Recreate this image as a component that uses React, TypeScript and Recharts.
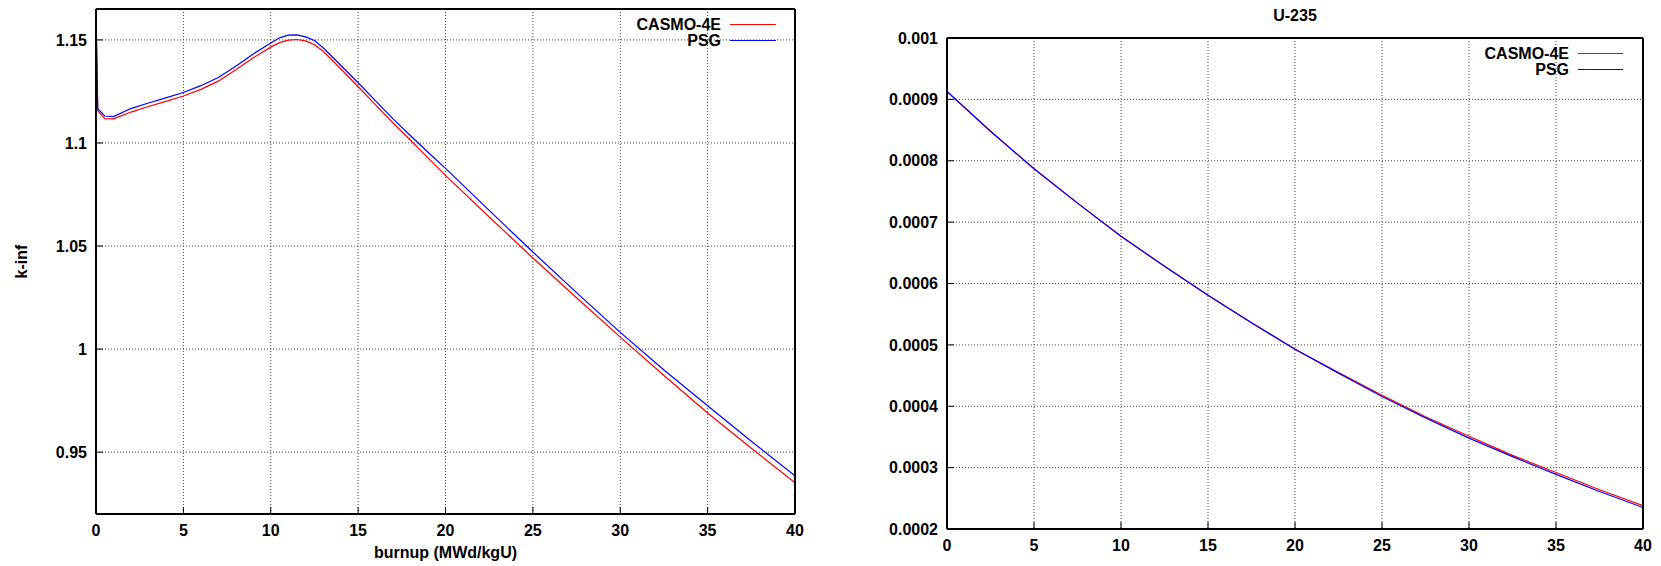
import React from 'react';
import { LineChart, Line, XAxis, YAxis, CartesianGrid, Legend, Label } from 'recharts';

const FONT = '"Liberation Sans", Arial, Helvetica, sans-serif';

// ---- k-inf chart data ----
const burnupK = [0, 0.1, 0.5, 1, 2, 3, 4, 5, 6, 7, 8, 9, 10, 10.5, 11, 11.5, 12, 12.5, 13, 14, 15, 16, 17, 18, 19, 20, 22.5, 25, 27.5, 30, 32.5, 35, 37.5, 40];
const casmoK = [1.163, 1.1156, 1.1118, 1.1117, 1.115, 1.1177, 1.1202, 1.1228, 1.126, 1.13, 1.1355, 1.1413, 1.1465, 1.1487, 1.1499, 1.1502, 1.1495, 1.1477, 1.1445, 1.136, 1.1273, 1.1185, 1.1097, 1.1013, 1.0928, 1.0843, 1.0641, 1.0442, 1.0249, 1.0058, 0.9872, 0.969, 0.9519, 0.9352];
const psgK = [1.163, 1.1166, 1.1131, 1.1128, 1.1167, 1.1194, 1.1219, 1.1245, 1.1278, 1.1318, 1.1372, 1.1432, 1.1485, 1.151, 1.1523, 1.1524, 1.1515, 1.1497, 1.1462, 1.1377, 1.1292, 1.1204, 1.1117, 1.1035, 1.0955, 1.0877, 1.0673, 1.0471, 1.0274, 1.0081, 0.9899, 0.9725, 0.9553, 0.9385];

// ---- U-235 chart data ----
const burnupU = [0, 2.5, 5, 7.5, 10, 12.5, 15, 17.5, 20, 22.5, 25, 27.5, 30, 32.5, 35, 37.5, 40];
const casmoU = [0.000913, 0.000848, 0.000787, 0.000731, 0.000677, 0.000628, 0.000581, 0.000536, 0.000493, 0.000455, 0.000418, 0.000383, 0.000351, 0.00032, 0.000292, 0.000264, 0.000238];
const psgU = [0.000913, 0.000848, 0.000787, 0.000731, 0.000677, 0.000628, 0.000581, 0.000536, 0.000493, 0.000454, 0.000416, 0.000381, 0.000348, 0.000318, 0.000289, 0.000261, 0.000235];

// ---- ticks / labels ----
const xTicks = [0, 5, 10, 15, 20, 25, 30, 35, 40];
const kTicks = [0.95, 1, 1.05, 1.1, 1.15];
const uTicks = [0.0002, 0.0003, 0.0004, 0.0005, 0.0006, 0.0007, 0.0008, 0.0009, 0.001];
const kDomain = [0.92, 1.165];
const uDomain = [0.0002, 0.001];
const xDomain = [0, 40];
const seriesNames = ['CASMO-4E', 'PSG'];
const seriesColors = ['#ff0000', '#0000ff'];
const xLabel = 'burnup (MWd/kgU)';
const yLabelK = 'k-inf';
const titleU = 'U-235';

const kData = burnupK.map((b, i) => ({ burnup: b, casmo: casmoK[i], psg: psgK[i] }));
const uData = burnupU.map((b, i) => ({ burnup: b, casmo: casmoU[i], psg: psgU[i] }));

const tickStyle = { fill: '#000', fontSize: 16, fontWeight: 700, fontFamily: FONT };

function makeLegend(textWidth: number, lineWidth: number) {
  return (props: any) => {
    const payload = props.payload || [];
    return (
      <div style={{ fontFamily: FONT, fontWeight: 700, fontSize: 16, lineHeight: '16px', color: '#000' }}>
        {payload.map((p: any) => (
          <div key={p.value} style={{ display: 'flex', height: 16 }}>
            <span style={{ width: textWidth, textAlign: 'right', whiteSpace: 'nowrap' }}>{p.value}</span>
            <svg width={9 + lineWidth} height={16} style={{ display: 'block' }}>
              <line x1={9} x2={9 + lineWidth} y1={7.5} y2={7.5} stroke={p.color} strokeWidth={1.2} />
            </svg>
          </div>
        ))}
      </div>
    );
  };
}

const yLabelContent = (props: any) => {
  const vb = props.viewBox || { x: 0, y: 0, width: 0, height: 0 };
  const cx = vb.x + 21;
  const cy = vb.y + vb.height / 2;
  return (
    <text x={cx} y={cy} dy="0.35em" transform={`rotate(-90 ${cx} ${cy})`} textAnchor="middle"
      fill="#000" fontSize={16} fontWeight={700} fontFamily={FONT}>{yLabelK}</text>
  );
};

export default function App() {
  return (
    <div style={{ position: 'absolute', left: 0, top: 0, width: 1661, height: 566, background: '#fff', fontFamily: FONT }}>
      <div style={{ position: 'absolute', left: 0, top: 0 }}>
        <LineChart width={830} height={566} data={kData} margin={{ top: 8, right: 34, bottom: 0, left: 0 }}>
          <CartesianGrid stroke="#444" strokeDasharray="1 2" />
          <XAxis dataKey="burnup" type="number" domain={xDomain} ticks={xTicks} allowDataOverflow height={52}
            stroke="#000" axisLine={{ strokeWidth: 2 }} tickSize={-7} tickMargin={18} tick={tickStyle}>
            <Label value={xLabel} position="insideBottom" offset={8} fill="#000" fontSize={16} fontWeight={700} fontFamily={FONT} />
          </XAxis>
          <XAxis xAxisId="top" orientation="top" type="number" domain={xDomain} ticks={xTicks} allowDataOverflow height={1}
            stroke="#000" axisLine={{ strokeWidth: 2 }} tickSize={-7} tick={false} />
          <YAxis type="number" domain={kDomain} ticks={kTicks} allowDataOverflow width={96}
            stroke="#000" axisLine={{ strokeWidth: 2 }} tickSize={-7} tickMargin={16} tick={tickStyle}
            tickFormatter={(v: number) => String(v)}>
            <Label content={yLabelContent} />
          </YAxis>
          <YAxis yAxisId="right" orientation="right" type="number" domain={kDomain} ticks={kTicks} allowDataOverflow width={1}
            stroke="#000" axisLine={{ strokeWidth: 2 }} tickSize={-7} tick={false} />
          <Legend layout="vertical" align="center" verticalAlign="middle"
            wrapperStyle={{ position: 'absolute', left: 600, top: 17, width: 200 }}
            content={makeLegend(121, 46)} />
          <Line type="linear" dataKey="casmo" name={seriesNames[0]} stroke={seriesColors[0]} strokeWidth={1.2} dot={false} isAnimationActive={false} />
          <Line type="linear" dataKey="psg" name={seriesNames[1]} stroke={seriesColors[1]} strokeWidth={1.2} dot={false} isAnimationActive={false} />
        </LineChart>
      </div>
      <div style={{ position: 'absolute', left: 830, top: 0 }}>
        <LineChart width={831} height={566} data={uData} margin={{ top: 0, right: 17, bottom: 0, left: 0 }}>
          <CartesianGrid stroke="#444" strokeDasharray="1 2" />
          <XAxis dataKey="burnup" type="number" domain={xDomain} ticks={xTicks} allowDataOverflow height={37}
            stroke="#000" axisLine={{ strokeWidth: 2 }} tickSize={-7} tickMargin={18} tick={tickStyle} />
          <XAxis xAxisId="top" orientation="top" type="number" domain={xDomain} ticks={xTicks} allowDataOverflow height={38}
            stroke="#000" axisLine={{ strokeWidth: 2 }} tickSize={-7} tick={false}>
            <Label value={titleU} position="insideTop" offset={10} fill="#000" fontSize={16} fontWeight={700} fontFamily={FONT} />
          </XAxis>
          <YAxis type="number" domain={uDomain} ticks={uTicks} allowDataOverflow width={117}
            stroke="#000" axisLine={{ strokeWidth: 2 }} tickSize={-7} tickMargin={16} tick={tickStyle}
            tickFormatter={(v: number) => String(v)} />
          <YAxis yAxisId="right" orientation="right" type="number" domain={uDomain} ticks={uTicks} allowDataOverflow width={1}
            stroke="#000" axisLine={{ strokeWidth: 2 }} tickSize={-7} tick={false} />
          <Legend layout="vertical" align="center" verticalAlign="middle"
            wrapperStyle={{ position: 'absolute', left: 600, top: 46, width: 200 }}
            content={makeLegend(139, 45)} />
          <Line type="linear" dataKey="casmo" name={seriesNames[0]} stroke={seriesColors[0]} strokeWidth={1.2} dot={false} isAnimationActive={false} />
          <Line type="linear" dataKey="psg" name={seriesNames[1]} stroke={seriesColors[1]} strokeWidth={1.2} dot={false} isAnimationActive={false} />
        </LineChart>
      </div>
    </div>
  );
}
